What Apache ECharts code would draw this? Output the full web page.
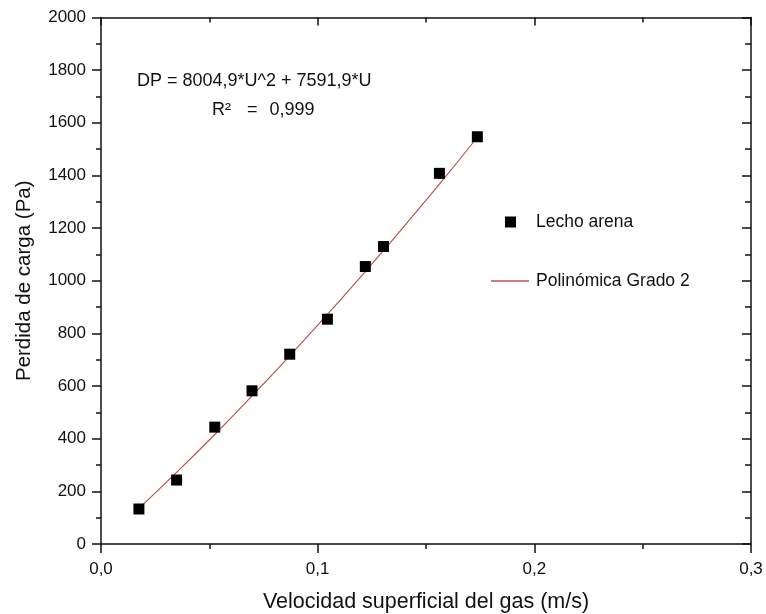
<!DOCTYPE html>
<html>
<head>
<meta charset="utf-8">
<title>Perdida de carga vs velocidad superficial</title>
<script src="https://cdn.jsdelivr.net/npm/echarts@6/dist/echarts.min.js"></script>
<style>
  html, body { margin: 0; padding: 0; background: #fff; }
  #chart { width: 766px; height: 614px; }
</style>
</head>
<body>
<div id="chart"></div>
<script>
// Measured bed pressure drop vs superficial gas velocity (sand bed)
const velocity = [0.0175, 0.0349, 0.0525, 0.0697, 0.0871, 0.1045, 0.1220, 0.1304, 0.1562, 0.1737];
const pressureDrop = [133, 243, 444, 582, 721, 854, 1054, 1130, 1408, 1547];

// Second-order polynomial fit curve
const fitVelocity = [0.0180, 0.0350, 0.0525, 0.0700, 0.0870, 0.1045, 0.1220, 0.1305, 0.1560, 0.1739];
const fitPressure = [139, 273, 416, 565, 714, 872, 1035, 1116, 1365, 1547];

const xTicks = { min: 0, max: 0.3, step: 0.1 };
const yTicks = { min: 0, max: 2000, step: 200 };

const seriesNames = ['Lecho arena', 'Polinómica Grado 2'];
const fitEquation = 'DP = 8004,9*U^2 + 7591,9*U';
const fitR2 = ['R²', '=', '0,999'];
const xTitle = 'Velocidad superficial del gas (m/s)';
const yTitle = 'Perdida de carga (Pa)';

const FONT = '"Liberation Sans", Arial, sans-serif';
const INK = '#111';
const FIT_COLOR = '#b8554f';

const chart = echarts.init(document.getElementById('chart'), null, { renderer: 'canvas' });

const commaFmt = v => (Math.round(v * 10) / 10).toFixed(1).replace('.', ',');
const plainFmt = v => String(v);

const axisLineStyle = { color: INK, width: 1.5 };
const tickStyle = { color: INK, width: 1.5 };

chart.setOption({
  animation: false,
  backgroundColor: '#fff',
  textStyle: { fontFamily: FONT, color: INK },
  grid: {
    left: 101, right: 15, top: 17.5, bottom: 70,
    containLabel: false, outerBoundsMode: 'none'
  },
  xAxis: [
    {
      type: 'value', position: 'bottom',
      min: xTicks.min, max: xTicks.max, interval: xTicks.step,
      name: xTitle, nameLocation: 'middle', nameGap: 47,
      nameTextStyle: { fontSize: 21.5, color: INK, fontFamily: FONT },
      axisLine: { show: true, onZero: false, lineStyle: axisLineStyle },
      axisTick: { show: true, inside: false, length: 9, lineStyle: tickStyle },
      minorTick: { show: true, splitNumber: 2, length: 5, lineStyle: tickStyle },
      axisLabel: { fontSize: 17, color: INK, margin: 17, formatter: commaFmt, fontFamily: FONT },
      splitLine: { show: false }
    },
    {
      type: 'value', position: 'top',
      min: xTicks.min, max: xTicks.max, interval: xTicks.step,
      axisLine: { show: true, onZero: false, lineStyle: axisLineStyle },
      axisTick: { show: true, inside: true, length: 8, lineStyle: tickStyle },
      minorTick: { show: true, splitNumber: 2, length: 5, lineStyle: tickStyle },
      axisLabel: { show: false },
      splitLine: { show: false }
    }
  ],
  yAxis: [
    {
      type: 'value', position: 'left',
      min: yTicks.min, max: yTicks.max, interval: yTicks.step,
      name: yTitle, nameLocation: 'middle', nameGap: 66, nameRotate: 90,
      nameTextStyle: { fontSize: 20.5, color: INK, fontFamily: FONT },
      axisLine: { show: true, onZero: false, lineStyle: axisLineStyle },
      axisTick: { show: true, inside: false, length: 9, lineStyle: tickStyle },
      minorTick: { show: true, splitNumber: 2, length: 5, lineStyle: tickStyle },
      axisLabel: { fontSize: 17, color: INK, margin: 15, formatter: plainFmt, fontFamily: FONT },
      splitLine: { show: false }
    },
    {
      type: 'value', position: 'right',
      min: yTicks.min, max: yTicks.max, interval: yTicks.step,
      axisLine: { show: true, onZero: false, lineStyle: axisLineStyle },
      axisTick: { show: true, inside: true, length: 9, lineStyle: tickStyle },
      minorTick: { show: true, splitNumber: 2, length: 6, lineStyle: tickStyle },
      axisLabel: { show: false },
      splitLine: { show: false }
    }
  ],
  legend: [
    {
      data: [{ name: seriesNames[0], icon: 'rect', itemStyle: { color: '#000', opacity: 1 } }],
      left: 505, top: 213, orient: 'vertical', padding: 0,
      itemWidth: 11, itemHeight: 11, itemGap: 0,
      textStyle: { fontSize: 17.5, color: INK, fontFamily: FONT, padding: [0, 0, 0, 15] },
      selectedMode: false
    },
    {
      data: [{ name: seriesNames[1], icon: 'rect', itemStyle: { color: FIT_COLOR } }],
      left: 491, top: 272, orient: 'vertical', padding: 0,
      itemWidth: 38, itemHeight: 1.3, itemGap: 0,
      textStyle: { fontSize: 17.5, color: INK, fontFamily: FONT, padding: [0, 0, 0, 2] },
      selectedMode: false
    }
  ],
  graphic: [
    {
      type: 'text', left: 137, top: 72,
      style: { text: fitEquation, fontSize: 18, fill: INK, fontFamily: FONT }
    },
    {
      type: 'text', left: 212, top: 101,
      style: {
        text: '{a|' + fitR2[0] + '}{b|' + fitR2[1] + '}{c|' + fitR2[2] + '}',
        fontSize: 18, fill: INK, fontFamily: FONT,
        rich: {
          a: { fontSize: 18, fontFamily: FONT, fill: INK },
          b: { fontSize: 18, fontFamily: FONT, fill: INK, padding: [0, 0, 0, 16] },
          c: { fontSize: 18, fontFamily: FONT, fill: INK, padding: [0, 0, 0, 12] }
        }
      }
    }
  ],
  series: [
    {
      name: seriesNames[1],
      type: 'line',
      xAxisIndex: 0, yAxisIndex: 0,
      data: fitVelocity.map((u, i) => [u, fitPressure[i]]),
      smooth: true,
      symbol: 'none',
      lineStyle: { color: FIT_COLOR, width: 1.2 },
      itemStyle: { color: FIT_COLOR },
      z: 2
    },
    {
      name: seriesNames[0],
      type: 'scatter',
      xAxisIndex: 0, yAxisIndex: 0,
      data: velocity.map((u, i) => [u, pressureDrop[i]]),
      symbol: 'rect',
      symbolSize: 11,
      itemStyle: { color: '#000', opacity: 1 },
      z: 3
    }
  ]
});
</script>
</body>
</html>
